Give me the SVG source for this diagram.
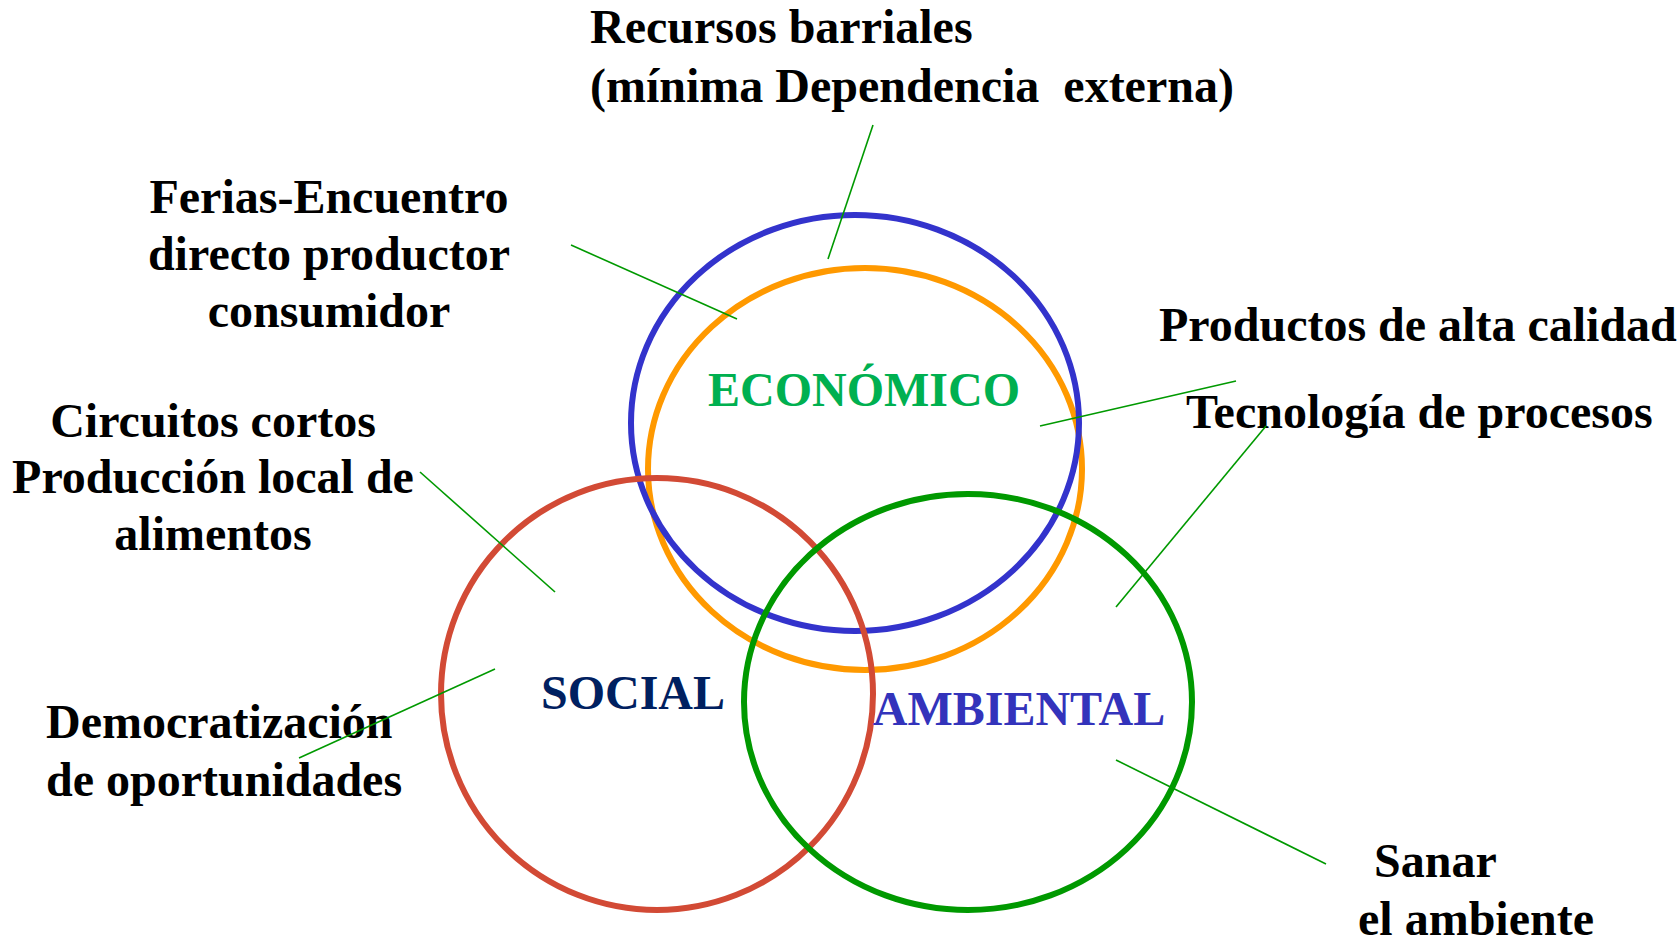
<svg xmlns="http://www.w3.org/2000/svg" width="1679" height="943" viewBox="0 0 1679 943">
<style>
.lbl{font-family:"Liberation Serif","Times New Roman",serif;font-weight:bold;font-size:48px;fill:#000;white-space:pre}
.mid{text-anchor:middle}
.ring{fill:none;stroke-width:6}
.conn{stroke:#009900;stroke-width:1.6;fill:none}
</style>
<rect width="1679" height="943" fill="#fff"/>
<g id="economico-orange"><ellipse class="ring" cx="865" cy="469" rx="217" ry="201" stroke="#FF9900"/></g>
<g id="economico"><ellipse class="ring" cx="855" cy="423" rx="224" ry="208" stroke="#3333CC"/>
<text class="lbl mid" x="864" y="406" style="fill:#00B050">ECONÓMICO</text></g>
<g id="social"><ellipse class="ring" cx="657" cy="694" rx="216" ry="216" stroke="#D24A35"/>
<text class="lbl mid" x="633" y="709" style="fill:#002060">SOCIAL</text></g>
<g id="ambiental"><ellipse class="ring" cx="968" cy="702" rx="224" ry="208" stroke="#009900"/>
<text class="lbl mid" x="1019" y="725" style="fill:#3333BB">AMBIENTAL</text></g>
<g id="recursos"><text class="lbl" x="590" y="43">Recursos barriales</text><text class="lbl" x="590" y="102">(mínima Dependencia  externa)</text></g>
<g id="ferias"><text class="lbl mid" x="329" y="213">Ferias-Encuentro</text><text class="lbl mid" x="329" y="270">directo productor</text><text class="lbl mid" x="329" y="327">consumidor</text></g>
<g id="circuitos"><text class="lbl mid" x="213" y="437">Circuitos cortos</text><text class="lbl mid" x="213" y="493">Producción local de</text><text class="lbl mid" x="213" y="550">alimentos</text></g>
<g id="productos"><text class="lbl" x="1159" y="341">Productos de alta calidad</text></g>
<g id="tecnologia"><text class="lbl" x="1186" y="428">Tecnología de procesos</text></g>
<g id="democratizacion"><text class="lbl" x="46" y="738">Democratización</text><text class="lbl" x="46" y="796">de oportunidades</text></g>
<g id="sanar"><text class="lbl" x="1374" y="877">Sanar</text><text class="lbl" x="1358" y="935">el ambiente</text></g>
<g id="connectors">
<line class="conn" x1="873" y1="125" x2="828" y2="259"/>
<line class="conn" x1="571" y1="245" x2="737" y2="319"/>
<line class="conn" x1="1236" y1="381" x2="1040" y2="426"/>
<line class="conn" x1="1266" y1="426" x2="1116" y2="607"/>
<line class="conn" x1="420" y1="472" x2="555" y2="592"/>
<line class="conn" x1="299" y1="758" x2="495" y2="669"/>
<line class="conn" x1="1116" y1="760" x2="1326" y2="864"/>
</g>
</svg>
